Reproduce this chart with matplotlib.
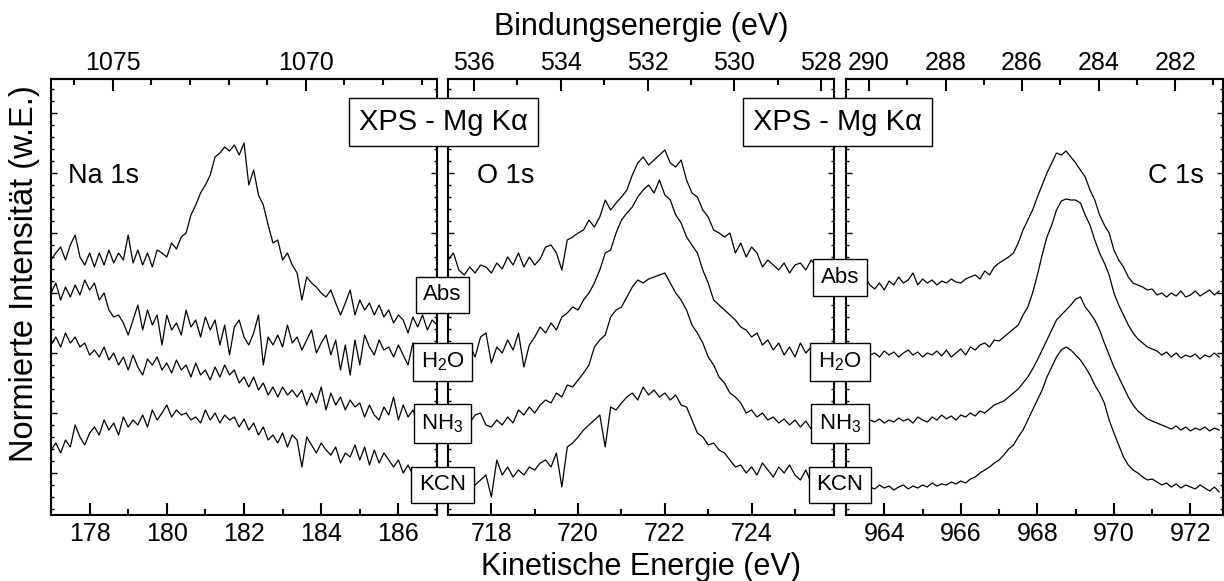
import numpy as np
import matplotlib
matplotlib.use("Agg")
import matplotlib.pyplot as plt
from matplotlib.ticker import MultipleLocator, FixedLocator

plt.rcParams['font.family'] = ['Liberation Sans', 'DejaVu Sans']
plt.rcParams['mathtext.fontset'] = 'custom'
plt.rcParams['mathtext.rm'] = 'Liberation Sans'
plt.rcParams['mathtext.it'] = 'Liberation Sans:italic'

HNU = 1253.6  # Mg K-alpha Photonenenergie (eV)

# kinetische Energie (eV), Messpunkte alle 0.125 eV
ke_na = np.arange(177.0, 187.001, 0.125)
ke_o = np.arange(717.0, 725.876, 0.125)
ke_c = np.arange(963.0, 972.751, 0.125)

samples = ['Abs', 'H$_2$O', 'NH$_3$', 'KCN']

# Na 1s (Intensitaet mit Versatz, w.E.)
na_abs = [255, 262, 268, 255, 270, 280, 258, 250,
          262, 248, 262, 250, 265, 252, 262, 255,
          280, 252, 265, 250, 262, 248, 265, 262,
          258, 272, 266, 278, 282, 300, 310, 322,
          330, 340, 358, 362, 368, 364, 370, 360,
          372, 330, 345, 320, 310, 290, 272, 275,
          255, 262, 250, 242, 215, 238, 232, 228,
          222, 218, 225, 212, 200, 212, 225, 200,
          215, 205, 212, 200, 210, 198, 205, 192,
          200, 195, 182, 198, 188, 200, 185, 195, 190]
na_h2o = [222, 232, 215, 228, 218, 230, 220, 235,
          225, 232, 215, 222, 205, 198, 200, 192,
          180, 195, 210, 185, 205, 190, 200, 170,
          200, 185, 192, 180, 205, 188, 195, 178,
          198, 185, 195, 170, 190, 160, 188, 195,
          178, 170, 182, 200, 150, 178, 170, 180,
          168, 190, 172, 178, 165, 175, 185, 162,
          172, 180, 160, 175, 145, 170, 140, 175,
          150, 180, 168, 160, 175, 165, 168, 158,
          170, 160, 150, 172, 150, 165, 155, 168, 160]
na_nh3 = [170, 178, 168, 182, 172, 178, 168, 172,
          160, 165, 158, 168, 155, 162, 150, 158,
          145, 160, 148, 140, 156, 150, 158, 145,
          152, 142, 155, 145, 150, 138, 152, 140,
          145, 135, 148, 138, 150, 140, 145, 132,
          138, 128, 138, 125, 132, 120, 128, 118,
          128, 120, 125, 118, 125, 110, 122, 112,
          128, 105, 122, 110, 118, 105, 115, 108,
          112, 98, 110, 100, 95, 108, 100, 118,
          95, 110, 98, 105, 92, 100, 95, 98, 95]
na_kcn = [65, 72, 62, 75, 68, 90, 78, 70,
          82, 88, 80, 95, 85, 92, 80, 98,
          88, 95, 90, 100, 88, 105, 95, 102,
          110, 98, 105, 100, 102, 95, 98, 92,
          105, 95, 102, 92, 100, 95, 98, 88,
          96, 85, 92, 80, 88, 75, 80, 72,
          82, 68, 80, 75, 48, 78, 70, 62,
          72, 65, 60, 68, 52, 62, 58, 70,
          55, 68, 50, 65, 52, 62, 55, 48,
          55, 42, 50, 40, 45, 42, 38, 44, 40]

# O 1s
o_abs = [255, 262, 245, 240, 248, 242, 250, 248,
         242, 252, 246, 258, 250, 262, 248, 258,
         250, 256, 268, 270, 262, 245, 275, 278,
         282, 285, 295, 288, 298, 315, 305, 312,
         318, 325, 340, 352, 358, 350, 355, 360,
         365, 352, 348, 355, 335, 322, 318, 305,
         298, 285, 282, 278, 282, 262, 272, 258,
         268, 262, 248, 255, 250, 245, 252, 242,
         250, 252, 245, 255, 248, 250, 252, 250]
o_h2o = [158, 155, 165, 160, 170, 158, 178, 182,
         152, 168, 162, 175, 165, 182, 148, 170,
         178, 188, 182, 192, 185, 198, 202, 208,
         205, 215, 222, 232, 245, 262, 265, 282,
         295, 302, 308, 318, 325, 330, 322, 335,
         320, 315, 300, 292, 278, 270, 262, 245,
         232, 215, 210, 205, 200, 195, 188, 185,
         178, 182, 170, 175, 165, 172, 160, 168,
         158, 172, 162, 168, 155, 165, 162, 168]
o_nh3 = [90, 98, 88, 95, 92, 100, 102, 90,
         88, 95, 90, 98, 92, 105, 100, 108,
         102, 110, 115, 112, 122, 118, 130, 128,
         135, 142, 150, 168, 175, 180, 198, 205,
         208, 218, 228, 235, 232, 236, 238, 240,
         242, 232, 222, 215, 205, 190, 182, 172,
         158, 150, 138, 132, 122, 118, 112, 102,
         105, 98, 102, 95, 98, 92, 96, 90,
         95, 88, 94, 86, 92, 85, 90, 84]
o_kcn = [30, 25, 32, 28, 22, 30, 35, 40,
         18, 55, 40, 48, 38, 45, 40, 48,
         45, 52, 55, 48, 62, 28, 68, 72,
         78, 85, 90, 95, 100, 68, 108, 105,
         112, 118, 122, 115, 128, 120, 125, 118,
         122, 115, 120, 110, 108, 95, 82, 78,
         70, 72, 65, 62, 55, 48, 50, 42,
         48, 40, 52, 45, 38, 48, 42, 50,
         40, 35, 45, 32, 38, 30, 35, 32]

# C 1s
c_abs = [230, 228, 236, 232, 238, 230, 226, 232,
         225, 234, 230, 238, 232, 235, 242, 230,
         236, 232, 235, 230, 234, 232, 236, 233,
         232, 236, 238, 240, 236, 244, 240, 248,
         252, 255, 258, 262, 272, 285, 295, 305,
         318, 330, 342, 352, 362, 360, 364, 358,
         352, 345, 338, 325, 315, 300, 290, 282,
         265, 255, 248, 238, 232, 230, 228, 225,
         226, 220, 222, 218, 222, 219, 224, 218,
         220, 224, 219, 222, 225, 220, 224]
c_h2o = [160, 155, 162, 158, 165, 160, 162, 158,
         164, 160, 163, 158, 162, 165, 160, 163,
         158, 162, 160, 164, 159, 165, 158, 162,
         166, 160, 168, 165, 170, 172, 168, 175,
         174, 178, 182, 186, 190, 200, 208, 222,
         240, 260, 278, 290, 305, 314, 316, 315,
         315, 312, 300, 290, 275, 262, 252, 240,
         222, 210, 200, 190, 182, 176, 172, 168,
         166, 164, 160, 163, 158, 162, 157, 160,
         158, 161, 156, 160, 158, 162, 158]
c_nh3 = [92, 95, 90, 94, 91, 95, 93, 96,
         92, 95, 93, 97, 94, 96, 92, 98,
         95, 93, 98, 95, 100, 96, 99, 95,
         100, 98, 102, 99, 104, 102, 106, 110,
         112, 114, 118, 122, 126, 132, 138, 146,
         155, 165, 175, 185, 195, 200, 205, 210,
         216, 218, 208, 202, 195, 185, 172, 160,
         148, 138, 128, 118, 110, 104, 100, 96,
         94, 92, 90, 88, 86, 89, 85, 88,
         84, 87, 85, 88, 84, 87, 85]
c_kcn = [28, 30, 26, 29, 25, 28, 26, 30,
         27, 29, 25, 28, 30, 26, 29, 27,
         30, 28, 32, 29, 31, 30, 33, 31,
         34, 32, 36, 38, 42, 45, 48, 52,
         55, 60, 66, 70, 78, 85, 95, 105,
         115, 125, 138, 148, 158, 165, 168, 165,
         160, 155, 148, 140, 130, 122, 112, 95,
         82, 70, 58, 50, 45, 42, 38, 35,
         36, 33, 30, 32, 28, 31, 27, 30,
         28, 26, 30, 27, 24, 28, 23]

W, H = 1224, 581
fig = plt.figure(figsize=(W / 100, H / 100), dpi=100)

# Pixel-Layout der drei Teilbilder
panels = [
    (51, 437, (177.0, 187.0), ke_na, [na_abs, na_h2o, na_nh3, na_kcn], 2, 5),
    (448, 834, (717.0, 725.9), ke_o, [o_abs, o_h2o, o_nh3, o_kcn], 2, 2),
    (846, 1223, (963.0, 972.85), ke_c, [c_abs, c_h2o, c_nh3, c_kcn], 2, 2),
]
y_bot, y_top = 515, 79


def in_range(lo, hi, step):
    # Tickpositionen der Bindungsenergie nur innerhalb des Fensters
    start = np.ceil(lo / step) * step
    return np.arange(start, hi + 1e-6, step)


for x0, x1, xlim, ke, curves, bmaj, tmaj in panels:
    ax = fig.add_axes([x0 / W, 1 - y_bot / H, (x1 - x0) / W, (y_bot - y_top) / H])
    for c in curves:
        ax.plot(ke, c, color='black', lw=0.9)
    ax.set_xlim(*xlim)
    ax.set_ylim(0, 436)
    for s in ax.spines.values():
        s.set_linewidth(1.5)
    ax.xaxis.set_major_locator(MultipleLocator(bmaj))
    ax.xaxis.set_minor_locator(MultipleLocator(1))
    ax.yaxis.set_major_locator(MultipleLocator(60, offset=42))
    ax.yaxis.set_minor_locator(MultipleLocator(12, offset=6))
    ax.tick_params(axis='x', which='both', direction='in', top=False, width=1.5,
                   labelsize=18, pad=5)
    ax.tick_params(axis='x', which='major', length=8.5)
    ax.tick_params(axis='x', which='minor', length=4.5)
    ax.tick_params(axis='y', which='both', direction='in', left=True, right=True,
                   labelleft=False, width=1)
    ax.tick_params(axis='y', which='major', length=4)
    ax.tick_params(axis='y', which='minor', length=2)

    be_lo, be_hi = HNU - xlim[1], HNU - xlim[0]
    sec = ax.secondary_xaxis('top', functions=(lambda k: HNU - k, lambda b: HNU - b))
    sec.xaxis.set_major_locator(FixedLocator(in_range(be_lo, be_hi, tmaj)))
    sec.xaxis.set_minor_locator(FixedLocator(in_range(be_lo, be_hi, 1)))
    sec.tick_params(which='both', direction='in', width=1.5, labelsize=18, pad=3)
    sec.tick_params(which='major', length=8.5)
    sec.tick_params(which='minor', length=4.5)
    for s in sec.spines.values():
        s.set_linewidth(1.5)

# Beschriftungen
fig.text(641 / W, 1 - 35 / H, 'Bindungsenergie (eV)', ha='center', va='baseline', fontsize=22)
fig.text(641 / W, 1 - 575 / H, 'Kinetische Energie (eV)', ha='center', va='baseline', fontsize=22)
fig.text(25 / W, 1 - 274 / H, 'Normierte Intensität (w.E.)', rotation=90,
         ha='center', va='center', fontsize=23.5)

for x, lab in [(68, 'Na 1s'), (477, 'O 1s'), (1148, 'C 1s')]:
    fig.text(x / W, 1 - 183 / H, lab, ha='left', va='baseline', fontsize=19.5)

for x in (443.5, 837.5):
    fig.text(x / W, 1 - 122 / H, 'XPS - Mg K\u03b1', ha='center', va='center',
             fontsize=21,
             bbox=dict(boxstyle='square,pad=0.33', fc='white', ec='black', lw=1),
             zorder=10)

label_y = [[295, 362, 423.5, 485], [277.5, 362, 423.5, 485]]
for x, ys in zip((442.5, 840), label_y):
    for y, lab in zip(ys, samples):
        fig.text(x / W, 1 - y / H, lab, ha='center', va='center', fontsize=16,
                 bbox=dict(boxstyle='square,pad=0.35', fc='white', ec='black', lw=1),
                 zorder=10)

fig.savefig('out.png', dpi=100)
